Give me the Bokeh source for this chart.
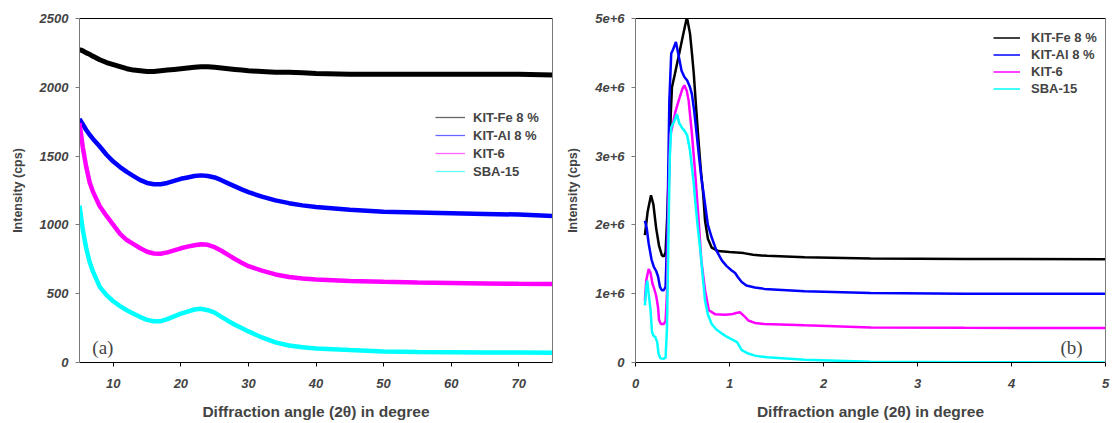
import numpy as np
from bokeh.plotting import figure
from bokeh.models import (FixedTicker, LinearAxis, Legend, LegendItem, Label,
                          Range1d)
from bokeh.layouts import row
from bokeh.embed import file_html
from bokeh.resources import INLINE

# ---------------- data: panel (a) wide-angle ----------------
wa_x = [5, 5.5, 6, 6.5, 7, 8, 9, 10, 11, 12, 13, 14, 15, 16, 17, 18, 19, 20,
        21, 22, 23, 24, 25, 26, 27, 28, 29, 30, 32, 34, 36, 38, 40, 45, 50,
        55, 60, 65, 70, 75]
wa_fe = [2275, 2265, 2250, 2240, 2225, 2200, 2180, 2165, 2150, 2135, 2125,
         2120, 2115, 2115, 2120, 2125, 2130, 2135, 2140, 2145, 2150, 2150,
         2145, 2140, 2135, 2130, 2125, 2120, 2115, 2110, 2110, 2105, 2100,
         2095, 2095, 2095, 2095, 2095, 2095, 2090]
wa_al = [1770, 1730, 1690, 1655, 1625, 1570, 1510, 1460, 1420, 1385, 1355,
         1325, 1305, 1295, 1295, 1305, 1320, 1335, 1345, 1355, 1360, 1355,
         1345, 1325, 1302, 1280, 1258, 1238, 1205, 1178, 1158, 1142, 1130,
         1110, 1095, 1090, 1085, 1080, 1075, 1065]
wa_kit6 = [1740, 1560, 1420, 1310, 1240, 1135, 1065, 1000, 935, 890, 860,
           830, 805, 792, 790, 800, 815, 830, 842, 852, 860, 855, 838, 812,
           782, 752, 725, 700, 668, 640, 622, 610, 603, 592, 586, 581, 578,
           575, 572, 570]
wa_sba = [1140, 960, 830, 730, 660, 550, 490, 445, 410, 380, 355, 330, 310,
          300, 300, 315, 335, 355, 370, 385, 390, 380, 362, 332, 302, 275,
          250, 226, 182, 146, 124, 111, 102, 90, 80, 76, 75, 72, 72, 70]

# ---------------- data: panel (b) low-angle ----------------
la_fe_x = [0.10, 0.13, 0.165, 0.19, 0.22, 0.25, 0.28, 0.30, 0.32, 0.34, 0.36,
           0.375, 0.388, 0.42, 0.46, 0.50, 0.547, 0.58, 0.60, 0.62, 0.645,
           0.67, 0.695, 0.72, 0.74, 0.77, 0.81, 0.88, 1.0, 1.15, 1.25, 1.4,
           1.8, 2.5, 3.5, 5.0]
la_fe = [1.85e6, 2.2e6, 2.43e6, 2.3e6, 1.95e6, 1.7e6, 1.56e6, 1.54e6, 1.6e6,
         2.2e6, 3.0e6, 3.6e6, 4.0e6, 4.2e6, 4.46e6, 4.72e6, 5.02e6, 4.78e6,
         4.5e6, 4.2e6, 3.7e6, 3.23e6, 2.8e6, 2.45e6, 2.06e6, 1.8e6, 1.67e6,
         1.62e6, 1.605e6, 1.59e6, 1.565e6, 1.55e6, 1.53e6, 1.51e6, 1.505e6,
         1.5e6]
la_al_x = [0.10, 0.12, 0.14, 0.17, 0.195, 0.22, 0.24, 0.26, 0.28, 0.30, 0.32,
           0.34, 0.35, 0.36, 0.38, 0.40, 0.43, 0.46, 0.49, 0.52, 0.55, 0.58,
           0.60, 0.625, 0.65, 0.675, 0.70, 0.72, 0.74, 0.77, 0.81, 0.86,
           0.92, 0.97, 1.02, 1.06, 1.09, 1.13, 1.18, 1.27, 1.37, 1.8, 2.5,
           3.5, 5.0]
la_al = [2.06e6, 1.95e6, 1.73e6, 1.5e6, 1.39e6, 1.33e6, 1.25e6, 1.1e6,
         1.05e6, 1.05e6, 1.1e6, 2.0e6, 2.9e6, 3.8e6, 4.49e6, 4.55e6, 4.66e6,
         4.45e6, 4.24e6, 4.15e6, 4.1e6, 4.0e6, 3.9e6, 3.65e6, 3.33e6, 3.0e6,
         2.69e6, 2.5e6, 2.3e6, 2.0e6, 1.82e6, 1.63e6, 1.48e6, 1.4e6, 1.34e6,
         1.3e6, 1.24e6, 1.17e6, 1.12e6, 1.09e6, 1.07e6, 1.035e6, 1.01e6,
         1.0e6, 1.0e6]
la_kit6_x = [0.10, 0.115, 0.14, 0.16, 0.18, 0.195, 0.22, 0.24, 0.25, 0.27,
             0.30, 0.32, 0.335, 0.35, 0.37, 0.39, 0.42, 0.46, 0.50, 0.52,
             0.545, 0.565, 0.60, 0.635, 0.67, 0.70, 0.74, 0.78, 0.85, 0.95,
             1.02, 1.07, 1.11, 1.16, 1.2, 1.27, 1.37, 1.8, 2.5, 3.5, 5.0]
la_kit6 = [0.9e6, 1.2e6, 1.36e6, 1.3e6, 1.15e6, 1.09e6, 0.97e6, 0.8e6,
           0.62e6, 0.56e6, 0.56e6, 0.6e6, 1.0e6, 2.3e6, 3.3e6, 3.42e6,
           3.62e6, 3.81e6, 3.98e6, 4.03e6, 3.95e6, 3.81e6, 3.33e6, 2.75e6,
           2.1e6, 1.48e6, 1.05e6, 0.76e6, 0.70e6, 0.695e6, 0.70e6, 0.72e6,
           0.73e6, 0.67e6, 0.61e6, 0.575e6, 0.56e6, 0.54e6, 0.51e6, 0.505e6,
           0.5e6]
la_sba_x = [0.10, 0.115, 0.125, 0.14, 0.16, 0.175, 0.19, 0.21, 0.23, 0.245,
            0.265, 0.30, 0.32, 0.335, 0.35, 0.365, 0.38, 0.41, 0.44, 0.465,
            0.49, 0.52, 0.55, 0.58, 0.62, 0.635, 0.66, 0.69, 0.715, 0.74,
            0.77, 0.81, 0.86, 0.92, 0.97, 1.02, 1.08, 1.13, 1.2, 1.27, 1.4,
            1.8, 2.5, 3.5, 5.0]
la_sba = [0.83e6, 1.1e6, 1.19e6, 1.0e6, 0.76e6, 0.45e6, 0.39e6, 0.37e6,
          0.3e6, 0.13e6, 0.06e6, 0.055e6, 0.07e6, 0.5e6, 1.8e6, 3.0e6,
          3.42e6, 3.5e6, 3.61e6, 3.48e6, 3.42e6, 3.37e6, 3.3e6, 3.08e6,
          2.6e6, 2.35e6, 2.0e6, 1.63e6, 1.25e6, 0.9e6, 0.7e6, 0.56e6, 0.48e6,
          0.42e6, 0.375e6, 0.34e6, 0.295e6, 0.18e6, 0.13e6, 0.1e6, 0.075e6,
          0.04e6, 0.012e6, 0.003e6, 0.0]

series_names = ["KIT-Fe 8 %", "KIT-Al 8 %", "KIT-6", "SBA-15"]
series_colors = ["#000000", "#0000FF", "#FF00FF", "#00FFFF"]

a_xticks = [10, 20, 30, 40, 50, 60, 70]
a_yticks = [0, 500, 1000, 1500, 2000, 2500]
a_ylabels = ["0", "500", "1000", "1500", "2000", "2500"]
b_xticks = [0, 1, 2, 3, 4, 5]
b_yticks = [0, 1e6, 2e6, 3e6, 4e6, 5e6]
b_ylabels = ["0", "1e+6", "2e+6", "3e+6", "4e+6", "5e+6"]

FONT = "Liberation Sans"
GRAY = "#7a7a7a"
XLABEL = "Diffraction angle (2\u03b8) in degree"
YLABEL = "Intensity (cps)"
NAN = np.array([np.nan])


def make_fig(width, bl, br, xr, yr, xt, yt, ylabs):
    p = figure(width=width, height=423, output_backend="svg",
               toolbar_location=None, x_range=Range1d(*xr),
               y_range=Range1d(*yr), min_border_left=bl,
               min_border_right=br, min_border_top=18, min_border_bottom=61,
               background_fill_color="white", border_fill_color="white")
    p.outline_line_color = None
    p.xgrid.visible = False
    p.ygrid.visible = False
    xa = p.xaxis[0]
    xa.ticker = FixedTicker(ticks=xt)
    xa.axis_line_color = "black"
    xa.major_tick_line_color = "black"
    xa.major_tick_out = 4
    xa.major_tick_in = 0
    xa.minor_tick_line_color = None
    xa.major_label_text_font = FONT
    xa.major_label_text_font_size = "13px"
    xa.major_label_text_font_style = "bold italic"
    xa.major_label_standoff = 12
    xa.axis_label = XLABEL
    xa.axis_label_text_font = FONT
    xa.axis_label_text_font_size = "15.5px"
    xa.axis_label_text_font_style = "bold"
    xa.axis_label_standoff = 12
    ya = p.yaxis[0]
    ya.ticker = FixedTicker(ticks=yt)
    ya.major_label_overrides = {v: s for v, s in zip(yt, ylabs)}
    ya.axis_line_color = GRAY
    ya.major_tick_line_color = GRAY
    ya.major_tick_out = 4
    ya.major_tick_in = 0
    ya.minor_tick_line_color = None
    ya.major_label_text_font = FONT
    ya.major_label_text_font_size = "13px"
    ya.major_label_text_font_style = "bold italic"
    ya.major_label_standoff = 7
    ya.axis_label = YLABEL
    ya.axis_label_text_font = FONT
    ya.axis_label_text_font_size = "12.5px"
    ya.axis_label_text_font_style = "bold"
    ya.axis_label_standoff = 12
    top = LinearAxis(ticker=FixedTicker(ticks=[]), axis_line_color="black",
                     major_tick_line_color=None, minor_tick_line_color=None)
    right = LinearAxis(ticker=FixedTicker(ticks=[]), axis_line_color=GRAY,
                       major_tick_line_color=None, minor_tick_line_color=None)
    p.add_layout(top, "above")
    p.add_layout(right, "right")
    return p


# ---------------- panel (a) ----------------
pa = make_fig(563, 79, 11, (5, 75), (0, 2500), a_xticks, a_yticks, a_ylabels)
a_series = [wa_fe, wa_al, wa_kit6, wa_sba]
for ys, c, w in zip(a_series, series_colors, [5, 4.5, 4.5, 4.5]):
    pa.line(wa_x, ys, line_color=c, line_width=w)
a_items = []
for name, c in zip(series_names, series_colors):
    r = pa.line(NAN, NAN, line_color=c, line_width=1.3, line_alpha=0.6)
    a_items.append(LegendItem(label=name, renderers=[r]))
leg_a = Legend(items=a_items, location=(356, 182), padding=0, margin=0,
               spacing=0, glyph_width=30, glyph_height=18, label_height=18,
               label_standoff=8, border_line_color=None,
               background_fill_alpha=0, label_text_font=FONT,
               label_text_font_size="13px", label_text_font_style="bold")
pa.add_layout(leg_a)
pa.add_layout(Label(x=6.9, y=109, text="(a)", text_font="Liberation Serif",
                    text_font_size="19px", text_baseline="alphabetic"))

# ---------------- panel (b) ----------------
pb = make_fig(549, 70, 7, (0, 5), (0, 5e6), b_xticks, b_yticks, b_ylabels)
b_series = [(la_fe_x, la_fe), (la_al_x, la_al), (la_kit6_x, la_kit6),
            (la_sba_x, la_sba)]
for (xs, ys), c in zip(b_series, series_colors):
    pb.line(xs, ys, line_color=c, line_width=2.5)
b_items = []
for name, c in zip(series_names, series_colors):
    r = pb.line(NAN, NAN, line_color=c, line_width=1.5)
    b_items.append(LegendItem(label=name, renderers=[r]))
leg_b = Legend(items=b_items, location=(358, 265), padding=0, margin=0,
               spacing=0, glyph_width=27, glyph_height=17, label_height=17,
               label_standoff=11, border_line_color=None,
               background_fill_alpha=0, label_text_font=FONT,
               label_text_font_size="13px", label_text_font_style="bold")
pb.add_layout(leg_b)
pb.add_layout(Label(x=4.52, y=0.218e6, text="(b)", text_font="Liberation Serif",
                    text_font_size="19px", text_baseline="alphabetic"))

layout = row(pa, pb)
open("out.html", "w").write(file_html(layout, INLINE))
